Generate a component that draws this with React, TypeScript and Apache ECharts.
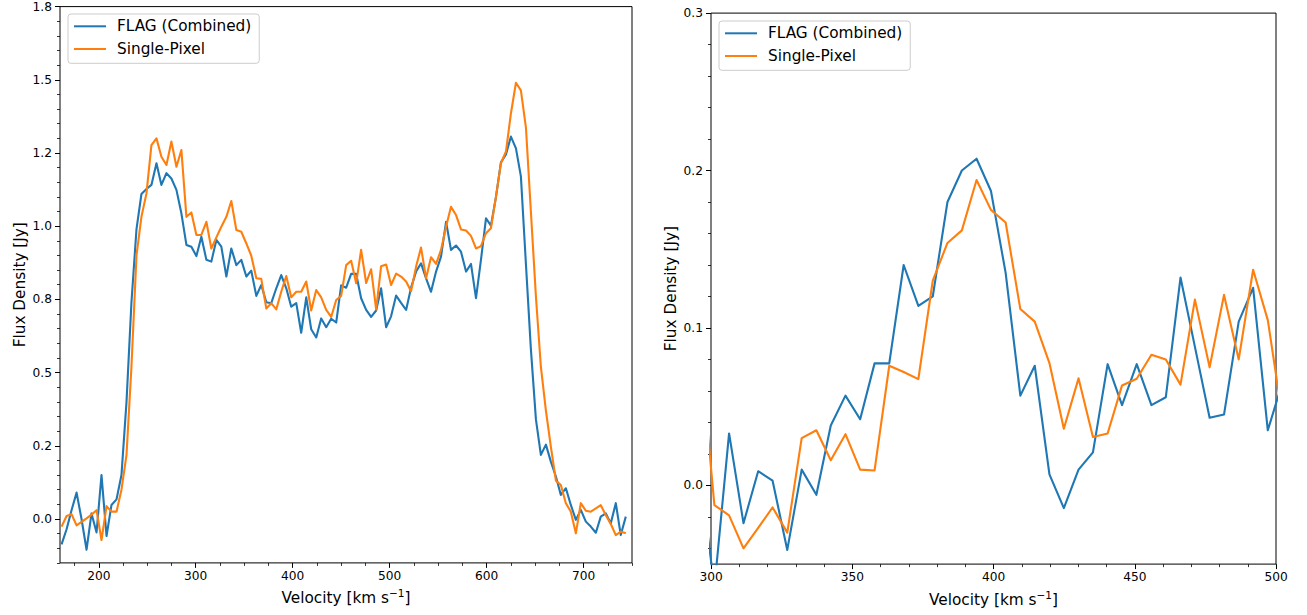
import React, { useEffect, useRef } from 'react';
import * as echarts from 'echarts';

// ---------------- data ----------------
const leftVelocity = [
  161.6, 166.8, 171.9, 177.1, 182.2, 187.4, 192.5, 197.7, 202.8, 208.0,
  213.1, 218.3, 223.4, 228.6, 233.7, 238.9, 244.0, 249.2, 254.3, 259.5,
  264.6, 269.8, 274.9, 280.1, 285.2, 290.4, 295.5, 300.7, 305.8, 311.0,
  316.1, 321.3, 326.4, 331.6, 336.7, 341.9, 347.0, 352.2, 357.3, 362.5,
  367.6, 372.8, 377.9, 383.1, 388.2, 393.4, 398.5, 403.7, 408.8, 414.0,
  419.1, 424.3, 429.4, 434.6, 439.7, 444.9, 450.0, 455.2, 460.3, 465.5,
  470.6, 475.8, 480.9, 486.1, 491.2, 496.4, 501.5, 506.7, 511.8, 517.0,
  522.1, 527.3, 532.4, 537.6, 542.7, 547.9, 553.0, 558.2, 563.3, 568.5,
  573.6, 578.8, 583.9, 589.1, 594.2, 599.4, 604.5, 609.7, 614.8, 620.0,
  625.1, 630.3, 635.4, 640.6, 645.7, 650.9, 656.0, 661.2, 666.3, 671.5,
  676.6, 681.8, 686.9, 692.1, 697.2, 702.4, 707.5, 712.7, 717.8, 723.0,
  728.1, 733.3, 738.4, 743.6,
];

const leftFlag = [
  -0.087, -0.035, 0.03, 0.09, 0.0, -0.105, 0.019, -0.046, 0.15, -0.058,
  0.048, 0.067, 0.15, 0.40, 0.74, 0.99, 1.11, 1.127, 1.141, 1.215,
  1.141, 1.181, 1.163, 1.124, 1.044, 0.936, 0.930, 0.898, 0.964, 0.885,
  0.879, 0.953, 0.930, 0.828, 0.924, 0.867, 0.885, 0.828, 0.848, 0.762,
  0.799, 0.740, 0.737, 0.788, 0.833, 0.788, 0.725, 0.737, 0.636, 0.757,
  0.648, 0.620, 0.685, 0.655, 0.684, 0.671, 0.798, 0.790, 0.837, 0.837,
  0.754, 0.714, 0.690, 0.712, 0.788, 0.655, 0.692, 0.763, 0.738, 0.714,
  0.790, 0.845, 0.873, 0.822, 0.776, 0.845, 0.896, 1.015, 0.919, 0.934,
  0.913, 0.845, 0.871, 0.754, 0.885, 1.027, 1.002, 1.10, 1.218, 1.245,
  1.306, 1.266, 1.170, 0.87, 0.58, 0.34, 0.219, 0.254, 0.196, 0.145,
  0.082, 0.105, 0.048, -0.003, 0.031, -0.009, -0.026, -0.047, 0.008, 0.019,
  -0.015, 0.054, -0.055, 0.008,
];

const leftSingle = [
  -0.026, 0.01, 0.016, -0.022, -0.01, 0.002, 0.015, 0.03, -0.072, 0.044,
  0.025, 0.025, 0.10, 0.219, 0.52, 0.90, 1.032, 1.112, 1.277, 1.300,
  1.237, 1.209, 1.289, 1.203, 1.260, 1.032, 1.047, 0.970, 0.970, 1.015,
  0.924, 0.962, 0.998, 1.032, 1.086, 0.987, 0.981, 0.941, 0.899, 0.822,
  0.820, 0.719, 0.737, 0.716, 0.776, 0.830, 0.757, 0.776, 0.776, 0.811,
  0.712, 0.782, 0.757, 0.714, 0.690, 0.748, 0.762, 0.867, 0.882, 0.805,
  0.919, 0.806, 0.853, 0.716, 0.863, 0.869, 0.799, 0.838, 0.828, 0.811,
  0.778, 0.862, 0.927, 0.822, 0.894, 0.871, 0.919, 0.998, 1.066, 1.038,
  0.989, 0.985, 0.967, 0.924, 0.932, 0.976, 0.993, 1.101, 1.215, 1.255,
  1.385, 1.490, 1.464, 1.337, 1.05, 0.76, 0.520, 0.37, 0.247, 0.131,
  0.116, 0.054, 0.025, -0.049, 0.054, 0.028, 0.025, 0.036, 0.047, 0.013,
  -0.017, -0.055, -0.043, -0.049,
];

const rightVelocity = [
  296.0, 301.2, 306.4, 311.5, 316.7, 321.8, 327.0, 332.1, 337.3, 342.4,
  347.6, 352.8, 357.9, 363.1, 368.2, 373.4, 378.5, 383.7, 388.8, 394.0,
  399.1, 404.3, 409.5, 414.6, 419.8, 424.9, 430.1, 435.2, 440.4, 445.5,
  450.7, 455.9, 461.0, 466.2, 471.3, 476.5, 481.6, 486.8, 491.9, 497.1,
  502.2,
];

const rightFlag = [
  0.01, -0.065, 0.033, -0.024, 0.009, 0.003, -0.041, 0.010, -0.006, 0.038,
  0.057, 0.042, 0.0775, 0.0775, 0.140, 0.114, 0.120, 0.180, 0.200, 0.2075,
  0.187, 0.135, 0.057, 0.076, 0.007, -0.0144, 0.010, 0.021, 0.077, 0.051,
  0.077, 0.051, 0.056, 0.132, 0.088, 0.043, 0.045, 0.104, 0.1255, 0.035,
  0.065,
];

const rightSingle = [
  0.09, -0.0125, -0.019, -0.040, -0.027, -0.014, -0.030, 0.030, 0.035, 0.016,
  0.0325, 0.010, 0.0095, 0.076, 0.072, 0.0675, 0.130, 0.154, 0.162, 0.194,
  0.175, 0.167, 0.112, 0.104, 0.0777, 0.036, 0.068, 0.0307, 0.033, 0.0635,
  0.0677, 0.083, 0.080, 0.064, 0.118, 0.075, 0.121, 0.080, 0.137, 0.105,
  0.044,
];

const seriesNames = ['FLAG (Combined)', 'Single-Pixel'];

// ---------------- ticks ----------------
const leftXRange = [160, 750];
const leftYRange = [-0.15, 1.75];
const leftXTicks = [200, 300, 400, 500, 600, 700];
const leftXTickLabels = ['200', '300', '400', '500', '600', '700'];
const leftXMinorStep = 25;
const leftYTicks = [0, 0.25, 0.5, 0.75, 1.0, 1.25, 1.5, 1.75];
const leftYTickLabels = ['0.0', '0.2', '0.5', '0.8', '1.0', '1.2', '1.5', '1.8'];
const leftYMinorStep = 0.05;

const rightXRange = [300, 500];
const rightYRange = [-0.05, 0.3];
const rightXTicks = [300, 350, 400, 450, 500];
const rightXTickLabels = ['300', '350', '400', '450', '500'];
const rightXMinorStep = 10;
const rightYTicks = [0, 0.1, 0.2, 0.3];
const rightYTickLabels = ['0.0', '0.1', '0.2', '0.3'];
const rightYMinorStep = 0.02;

const BLUE = '#1f77b4';
const ORANGE = '#ff7f0e';
const FONT = 'DejaVu Sans';
const BIG = 15.3;
const SMALL = 12.2;

function minorValues(range: number[], step: number, majors: number[]) {
  const out: number[] = [];
  const start = Math.ceil(range[0] / step - 1e-9);
  const end = Math.floor(range[1] / step + 1e-9);
  for (let i = start; i <= end; i++) {
    const v = Math.round(i * step * 1e6) / 1e6;
    if (!majors.some((m) => Math.abs(m - v) < 1e-6)) out.push(v);
  }
  return out;
}

function labelFor(ticks: number[], labels: string[]) {
  return (v: number) => {
    const i = ticks.findIndex((t) => Math.abs(t - v) < 1e-6);
    return i >= 0 ? labels[i] : '';
  };
}

function makeAxes(
  kind: 'x' | 'y',
  gridIndex: number,
  range: number[],
  majors: number[],
  labels: string[],
  minorStep: number,
  name: string,
  nameGap: number,
) {
  const isX = kind === 'x';
  const nameTextStyle: any = {
    fontFamily: FONT,
    fontSize: BIG,
    color: '#000',
  };
  if (isX) {
    nameTextStyle.rich = {
      a: { fontFamily: FONT, fontSize: BIG, color: '#000', lineHeight: 18, verticalAlign: 'bottom' },
      b: { fontFamily: FONT, fontSize: 10.5, color: '#000', lineHeight: 18, verticalAlign: 'top' },
    };
  }
  const common = {
    type: 'value',
    gridIndex,
    min: range[0],
    max: range[1],
    position: isX ? 'bottom' : 'left',
    offset: 0,
    axisLine: { show: false, onZero: false },
    splitLine: { show: false },
    minorTick: { show: false },
  };
  const main = {
    ...common,
    axisTick: {
      show: true,
      length: 5,
      lineStyle: { color: '#000', width: 1 },
      customValues: majors,
    },
    axisLabel: {
      show: true,
      customValues: majors,
      formatter: labelFor(majors, labels),
      color: '#000',
      fontSize: SMALL,
      fontFamily: FONT,
      margin: isX ? 7 : 8,
      hideOverlap: false,
    },
    name,
    nameLocation: 'middle',
    nameGap,
    nameTextStyle,
  };
  const minor = {
    ...common,
    axisTick: {
      show: true,
      length: 3,
      lineStyle: { color: '#000', width: 0.8 },
      customValues: minorValues(range, minorStep, majors),
    },
    axisLabel: { show: false },
  };
  return [main, minor];
}

function lineSeries(name: string, color: string, xs: number[], ys: number[], axisIndex: number) {
  return {
    type: 'line',
    name,
    xAxisIndex: axisIndex,
    yAxisIndex: axisIndex,
    data: xs.map((x, i) => [x, ys[i]]),
    showSymbol: false,
    symbol: 'none',
    clip: true,
    lineStyle: { color, width: 2.1, join: 'round' },
    itemStyle: { color },
    emphasis: { disabled: true },
  };
}

function legendAt(left: number, top: number) {
  return {
    data: seriesNames,
    left,
    top,
    orient: 'vertical',
    icon: 'rect',
    itemWidth: 32,
    itemHeight: 2,
    itemGap: 4.7,
    padding: [3.3, 8, 5.3, 6],
    backgroundColor: 'rgba(255,255,255,0.8)',
    borderColor: '#cccccc',
    borderWidth: 1,
    borderRadius: 3,
    selectedMode: false,
    textStyle: {
      fontFamily: FONT,
      fontSize: BIG,
      color: '#000',
      lineHeight: 18,
      padding: [0, 0, 0, 6],
    },
  };
}

const xName = '{a|Velocity [km s}{b|\u22121}{a|]}';
const yName = 'Flux Density [Jy]';

export default function App() {
  const ref = useRef<HTMLDivElement>(null);

  useEffect(() => {
    if (!ref.current) return;
    const chart = echarts.init(ref.current, null, { renderer: 'svg' });

    const [lxMain, lxMinor] = makeAxes('x', 0, leftXRange, leftXTicks, leftXTickLabels, leftXMinorStep, xName, 25);
    const [rxMain, rxMinor] = makeAxes('x', 1, rightXRange, rightXTicks, rightXTickLabels, rightXMinorStep, xName, 25);
    const [lyMain, lyMinor] = makeAxes('y', 0, leftYRange, leftYTicks, leftYTickLabels, leftYMinorStep, yName, 33);
    const [ryMain, ryMinor] = makeAxes('y', 1, rightYRange, rightYTicks, rightYTickLabels, rightYMinorStep, yName, 33);

    const gridStyle = {
      show: true,
      borderColor: '#000',
      borderWidth: 1,
      backgroundColor: 'transparent',
      containLabel: false,
    };

    chart.setOption({
      animation: false,
      backgroundColor: '#ffffff',
      textStyle: { fontFamily: FONT },
      grid: [
        { ...gridStyle, left: 60, top: 6.6, width: 572, height: 556.3 },
        { ...gridStyle, left: 711, top: 13.1, width: 565, height: 551 },
      ],
      xAxis: [lxMain, lxMinor, rxMain, rxMinor],
      yAxis: [lyMain, lyMinor, ryMain, ryMinor],
      legend: [legendAt(68, 14), legendAt(719, 21)],
      series: [
        lineSeries(seriesNames[0], BLUE, leftVelocity, leftFlag, 0),
        lineSeries(seriesNames[1], ORANGE, leftVelocity, leftSingle, 0),
        lineSeries(seriesNames[0], BLUE, rightVelocity, rightFlag, 2),
        lineSeries(seriesNames[1], ORANGE, rightVelocity, rightSingle, 2),
      ],
    });

    return () => {
      chart.dispose();
    };
  }, []);

  return (
    <div
      ref={ref}
      style={{ position: 'absolute', left: 0, top: 0, width: 1307, height: 615 }}
    />
  );
}
